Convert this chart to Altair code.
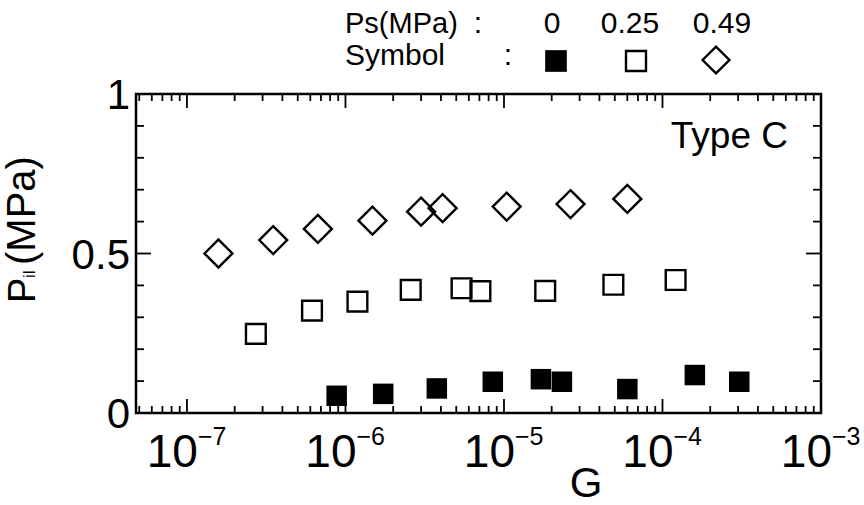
import altair as alt
import pandas as pd

# ---- data ----
G_PS0 = [8.8e-7, 1.73e-6, 3.77e-6, 8.5e-6, 1.71e-5, 2.32e-5, 6.0e-5, 1.6e-4, 3.05e-4]
P_PS0 = [0.054, 0.060, 0.077, 0.098, 0.106, 0.098, 0.075, 0.119, 0.098]

G_PS025 = [2.72e-7, 6.15e-7, 1.19e-6, 2.58e-6, 5.4e-6, 7.1e-6, 1.82e-5, 4.9e-5, 1.21e-4]
P_PS025 = [0.248, 0.321, 0.349, 0.386, 0.391, 0.382, 0.383, 0.402, 0.417]

G_PS049 = [1.58e-7, 3.5e-7, 6.7e-7, 1.48e-6, 3.0e-6, 4.1e-6, 1.04e-5, 2.63e-5, 6.0e-5]
P_PS049 = [0.50, 0.542, 0.577, 0.603, 0.631, 0.642, 0.647, 0.655, 0.671]

X_MAJOR = [1e-7, 1e-6, 1e-5, 1e-4, 1e-3]
X_EXP = ["\u22127", "\u22126", "\u22125", "\u22124", "\u22123"]
X_MINOR = [m * 10.0 ** e for e in range(-8, -3) for m in range(2, 10)]
Y_MAJOR = [0.0, 0.5, 1.0]
Y_LABELS = ["0", "0.5", "1"]
Y_MINOR = [0.1, 0.2, 0.3, 0.4, 0.6, 0.7, 0.8, 0.9]

W, H = 685, 319
FONT = "Liberation Sans"
xs = alt.Scale(type="log", domain=[4.77e-8, 1e-3])
ys = alt.Scale(domain=[0, 1])

def X(field="G"):
    return alt.X(f"{field}:Q", scale=xs, axis=None)

def Y(field="P"):
    return alt.Y(f"{field}:Q", scale=ys, axis=None)

layers = []

# ---- data points ----
d0 = pd.DataFrame({"G": G_PS0, "P": P_PS0})
d25 = pd.DataFrame({"G": G_PS025, "P": P_PS025})
d49 = pd.DataFrame({"G": G_PS049, "P": P_PS049})

layers.append(alt.Chart(d0).mark_point(shape="square", filled=True, color="black",
                                       size=420, opacity=1).encode(x=X(), y=Y()))
layers.append(alt.Chart(d25).mark_point(shape="square", filled=False, stroke="black",
                                        strokeWidth=2.4, size=390, opacity=1).encode(x=X(), y=Y()))
layers.append(alt.Chart(d49).mark_point(shape="diamond", filled=False, stroke="black",
                                        strokeWidth=2.4, size=780, opacity=1).encode(x=X(), y=Y()))

# ---- inward ticks ----
dxM = pd.DataFrame({"v": X_MAJOR})
dxm = pd.DataFrame({"v": [v for v in X_MINOR if 4.77e-8 < v < 1e-3]})
dyM = pd.DataFrame({"v": Y_MAJOR, "t": Y_LABELS})
dym = pd.DataFrame({"v": Y_MINOR})

tick = dict(color="black", strokeWidth=1.8)
for d, L in ((dxM, 14), (dxm, 7)):
    layers.append(alt.Chart(d).mark_rule(**tick).encode(x=X("v"), y=alt.value(H), y2=alt.value(H - L)))
    layers.append(alt.Chart(d).mark_rule(**tick).encode(x=X("v"), y=alt.value(0), y2=alt.value(L)))
for d, L in ((dyM, 15), (dym, 8)):
    layers.append(alt.Chart(d).mark_rule(**tick).encode(y=Y("v"), x=alt.value(0), x2=alt.value(L)))
    layers.append(alt.Chart(d).mark_rule(**tick).encode(y=Y("v"), x=alt.value(W), x2=alt.value(W - L)))

# ---- tick labels ----
dlab = pd.DataFrame({"v": X_MAJOR, "e": X_EXP, "b": ["10"] * len(X_MAJOR)})
layers.append(alt.Chart(dlab).mark_text(font=FONT, fontSize=46, align="right", baseline="alphabetic",
                                        dx=11, color="black").encode(x=X("v"), y=alt.value(373), text="b:N"))
layers.append(alt.Chart(dlab).mark_text(font=FONT, fontSize=25, align="left", baseline="alphabetic",
                                        dx=11, color="black").encode(x=X("v"), y=alt.value(351), text="e:N"))
layers.append(alt.Chart(dyM).mark_text(font=FONT, fontSize=42, align="right", baseline="middle",
                                       dy=2, color="black").encode(y=Y("v"), x=alt.value(-6), text="t:N"))

# ---- annotations ----
def txt(s, x, y, size, align="left", angle=0):
    kw = dict(font=FONT, fontSize=size, align=align, baseline="alphabetic", color="black")
    if angle:
        kw["angle"] = angle
    return alt.Chart(pd.DataFrame({"t": [s]})).mark_text(**kw).encode(
        x=alt.value(x), y=alt.value(y), text="t:N")

layers.append(txt("G", 450, 403, 42, align="center"))
layers.append(txt("Type C", 652, 54, 37, align="right"))
# y title (rotated, with subscript)
layers.append(txt("P", -101, 209, 38, angle=270))
layers.append(txt("il", -101, 184, 17, angle=270))
layers.append(txt("(MPa)", -101, 171, 40, angle=270))
# legend
layers.append(txt("Ps(MPa)", 209, -61, 29))
layers.append(txt(":", 342, -61, 30, align="center"))
layers.append(txt("0", 416, -61, 30, align="center"))
layers.append(txt("0.25", 494, -61, 30, align="center"))
layers.append(txt("0.49", 586, -61, 30, align="center"))
layers.append(txt("Symbol", 209, -29, 30))
layers.append(txt(":", 372, -29, 30, align="center"))

one = pd.DataFrame({"k": [0]})
layers.append(alt.Chart(one).mark_point(shape="square", filled=True, color="black", size=470,
                                        opacity=1).encode(x=alt.value(420), y=alt.value(-33)))
layers.append(alt.Chart(one).mark_point(shape="square", filled=False, stroke="black", strokeWidth=2.4,
                                        size=400, opacity=1).encode(x=alt.value(500), y=alt.value(-33)))
layers.append(alt.Chart(one).mark_point(shape="diamond", filled=False, stroke="black", strokeWidth=2.4,
                                        size=720, opacity=1).encode(x=alt.value(580), y=alt.value(-34)))

chart = alt.layer(*layers).properties(
    width=W, height=H,
    autosize=alt.AutoSizeParams(type="none"),
    padding={"left": 136, "top": 94, "right": 43, "bottom": 92},
    background="white",
).configure_view(stroke="black", strokeWidth=2.5)

chart.save("out.html", embed_options={"renderer": "svg", "actions": False})
